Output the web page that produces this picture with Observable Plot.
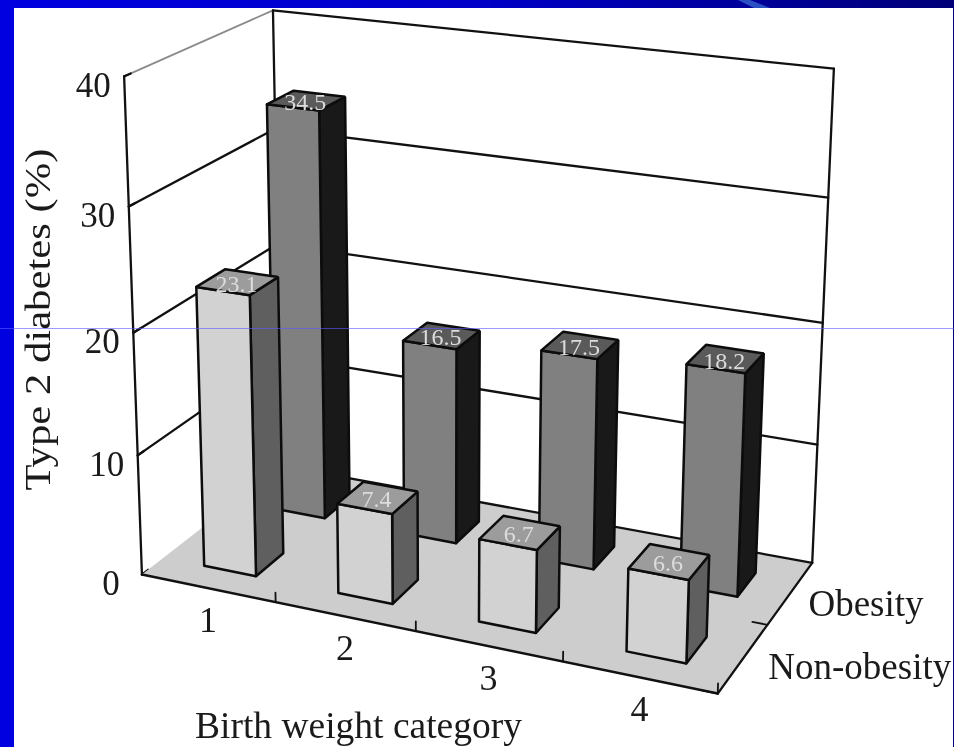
<!DOCTYPE html>
<html>
<head>
<meta charset="utf-8">
<script src="https://cdn.jsdelivr.net/npm/d3@7"></script>
<script src="https://cdn.jsdelivr.net/npm/@observablehq/plot@0.6"></script>
<style>
html,body{margin:0;padding:0;background:#0000dc;}
#slide{position:relative;width:954px;height:747px;overflow:hidden;background:linear-gradient(90deg,#0000e0 0%,#0000c8 50%,#000078 100%);}
#panel{position:absolute;left:14px;top:8px;right:1px;bottom:0;background:#fff;}
#streak{position:absolute;left:738px;top:0;width:32px;height:8px;background:#2a50c4;clip-path:polygon(0 0,12px 0,32px 100%,16px 100%);}
#hair{position:absolute;left:0;right:0;top:328px;height:1px;background:rgba(90,90,255,.6);}
#chart{position:absolute;left:0;top:0;}
#chart svg{display:block;background:transparent;filter:blur(.6px);}
</style>
</head>
<body>
<div id="slide"><div id="panel"></div><div id="streak"></div><div id="chart"></div><div id="hair"></div></div>
<script>
// ---- data ----
const categories = ["1", "2", "3", "4"];
const seriesNames = ["Non-obesity", "Obesity"];
const nonObesity = [23.1, 7.4, 6.7, 6.6];
const obesity = [34.5, 16.5, 17.5, 18.2];
const valueTicks = [0, 10, 20, 30, 40];
const valueMax = 40;
const xTitle = "Birth weight category";
const yTitle = "Type 2 diabetes (%)";

// ---- camera calibration: box position (u along categories, v depth, w height) -> picture ----
const calibBox = [[0,0,0],[0,0,.25],[0,0,.5],[0,0,.75],[0,0,1],[.25,0,0],[.5,0,0],[.75,0,0],[1,0,0],[1,.5,0],[1,1,0],[1,1,.25],[1,1,.5],[1,1,.75],[1,1,1],[0,1,1],[0,1,0]];
const calibPic = [[143,576],[137,458],[133,331],[128,206],[122,76],[275,599],[416,627],[561,660],[719,696],[766,625],[813,562],[817,443],[822,323],[827,198],[833,68],[275,9],[279,466]];

function solve(A, b) {
  const n = b.length, M = A.map((r, i) => [...r, b[i]]);
  for (let c = 0; c < n; c++) {
    let p = c;
    for (let r = c + 1; r < n; r++) if (Math.abs(M[r][c]) > Math.abs(M[p][c])) p = r;
    [M[c], M[p]] = [M[p], M[c]];
    for (let r = 0; r < n; r++) if (r !== c) {
      const f = M[r][c] / M[c][c];
      for (let k = c; k <= n; k++) M[r][k] -= f * M[c][k];
    }
  }
  return M.map((r, i) => r[n] / r[i]);
}
const rows = [], rhs = [];
calibBox.forEach(([u, v, w], i) => {
  const [px, py] = calibPic[i];
  rows.push([u, v, w, 1, 0, 0, 0, 0, -u * px, -v * px, -w * px]); rhs.push(px);
  rows.push([0, 0, 0, 0, u, v, w, 1, -u * py, -v * py, -w * py]); rhs.push(py);
});
const AtA = d3.range(11).map(i => d3.range(11).map(j => d3.sum(rows, r => r[i] * r[j])));
const Atb = d3.range(11).map(i => d3.sum(rows, (r, k) => r[i] * rhs[k]));
const h = solve(AtA, Atb);
function proj(u, v, w) {
  const d = h[8] * u + h[9] * v + h[10] * w + 1;
  return [(h[0] * u + h[1] * v + h[2] * w + h[3]) / d, (h[4] * u + h[5] * v + h[6] * w + h[7]) / d];
}

// ---- geometry built from the data ----
const BAR_U = 0.098, BAR_V = 0.195, SHIFT_U = 0.0015, SHIFT_V = [-0.008, 0];
const polys = [];
let pid = 0;
function poly(corners, fill, stroke, sw) {
  const id = pid++;
  [...corners, corners[0]].forEach(c => {
    const [x, y] = proj(...c);
    polys.push({id, x, y, fill, stroke, sw});
  });
}
const segs = [];
function seg(a, b, stroke, sw) {
  const id = pid++;
  [a, b].forEach(c => { const [x, y] = proj(...c); segs.push({id, x, y, stroke, sw}); });
}
// walls: grid lines
valueTicks.forEach(t => {
  const w = t / valueMax;
  if (t > 0) {
    seg([0,1,w],[1,1,w],"#111",2.3);
    seg([0,0,w],[0,1,w], t === valueMax ? "#8a8a8a" : "#111", t === valueMax ? 1.8 : 2.3);
  }
  seg([0,0,w],[0,0.04,w],"#111",2.3);
});
seg([0,1,0],[0,1,1],"#111",2.3);
seg([1,1,0],[1,1,1],"#111",2.3);
seg([0,0,0],[0,0,1],"#111",2.3);

// floor
poly([[0,0,0],[1,0,0],[1,1,0],[0,1,0]],"#cdcdcd","none",0);
seg([0,1,0],[1,1,0],"#111",2.3);
seg([0,0,0],[1,0,0],"#111",2.5);
seg([1,0,0],[1,1,0],"#111",2.3);
d3.range(1,5).forEach(i => seg([i/4,0,0],[i/4,0,0.02],"#111",1.8));
seg([1,.5,0],[.975,.5,0],"#111",1.8);
seg([1,0,0],[.975,0,0],"#111",1.8);

// bars, back row first
const labels = [];
function bar(i, s, val, cFront, cSide, cTop) {
  const uc = (i + .5) / categories.length + SHIFT_U, vc = (s + .5) / seriesNames.length + SHIFT_V[s];
  const u0 = uc - BAR_U / 2, u1 = uc + BAR_U / 2, v0 = vc - BAR_V / 2, v1 = vc + BAR_V / 2, w = val / valueMax;
  poly([[u1,v0,0],[u1,v1,0],[u1,v1,w],[u1,v0,w]], cSide, "#0c0c0c", 2.5);
  poly([[u0,v0,0],[u1,v0,0],[u1,v0,w],[u0,v0,w]], cFront, "#0c0c0c", 2.5);
  poly([[u0,v0,w],[u1,v0,w],[u1,v1,w],[u0,v1,w]], cTop, "#0c0c0c", 2.5);
  const [x, y] = proj(uc, vc, w);
  labels.push({x, y, t: val.toFixed(1)});
}
obesity.forEach((v, i) => bar(i, 1, v, "#808080", "#191919", "#5a5a5a"));
nonObesity.forEach((v, i) => bar(i, 0, v, "#d2d2d2", "#5f5f5f", "#9c9c9c"));

const serif = "Liberation Serif";
const ink = "#1a1a1a";
const valueTickText = valueTicks.map(t => { const [x, y] = proj(0, 0, t / valueMax); return {x, y, t: String(t)}; });
const catText = categories.map((c, i) => { const [x, y] = proj((i + .5) / categories.length, 0, 0); return {x, y, t: c}; });
const seriesText = seriesNames.map((n, s) => { const [x, y] = proj(1, (s + .5) / seriesNames.length, 0); return {x, y, t: n}; });

const chart = Plot.plot({
  width: 954, height: 747, margin: 0,
  x: {domain: [0, 954], range: [0, 954], axis: null},
  y: {domain: [0, 747], range: [0, 747], axis: null},
  color: {type: "identity"},
  style: {background: "transparent", overflow: "visible"},
  marks: [
    ...d3.groups([...segs, ...polys], d => d.id).sort((a, b) => a[0] - b[0]).map(([id, pts]) =>
      Plot.line(pts, {x: "x", y: "y", fill: pts[0].fill ?? "none", stroke: pts[0].stroke, strokeWidth: pts[0].sw, strokeLinejoin: "miter"})),
    Plot.text(labels, {x: "x", y: "y", text: "t", fill: "#dcdcdc", fontFamily: serif, fontSize: 24, textAnchor: "middle", dx: -1, dy: 2}),
    Plot.text(valueTickText, {x: "x", y: "y", text: "t", fill: ink, fontFamily: serif, fontSize: 35, dx: -31, dy: 9}),
    Plot.text(catText, {x: "x", y: "y", text: "t", fill: ink, fontFamily: serif, fontSize: 36, dy: 32}),
    Plot.text(seriesText.slice(1), {x: "x", y: "y", text: "t", fill: ink, fontFamily: serif, fontSize: 37, textAnchor: "start", dx: 18, dy: 11}),
    Plot.text(seriesText.slice(0, 1), {x: "x", y: "y", text: "t", fill: ink, fontFamily: serif, fontSize: 37, textAnchor: "start", dx: 25, dy: 9}),
    Plot.text([xTitle], {x: () => 358, y: () => 725, text: d => d, fill: ink, fontFamily: serif, fontSize: 37.5}),
    Plot.text([yTitle], {x: () => 38, y: () => 319, text: d => d, rotate: -90, fill: ink, fontFamily: serif, fontSize: 36})
  ]
});
// the vertical title is drawn stretched along its length in the reference
chart.querySelectorAll("text").forEach(t => {
  if (t.textContent === yTitle) { t.setAttribute("textLength", 342); t.setAttribute("lengthAdjust", "spacingAndGlyphs"); }
});
document.getElementById("chart").appendChild(chart);
</script>
</body>
</html>
